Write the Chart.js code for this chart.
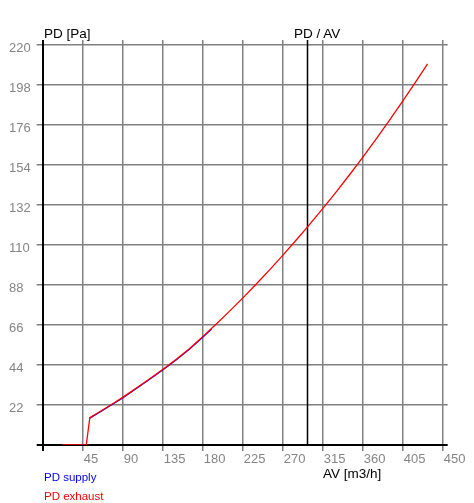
<!DOCTYPE html>
<html lang="en">
  <head>
    <meta charset="UTF-8" />
    <title>PD / AV</title>
    <style>
      body {
        margin: 0;
        background: #fff;
        font-family: "Liberation Sans", Arial, sans-serif;
      }
      .wrap {
        position: relative;
        width: 474px;
        height: 503px;
      }
      .lbl {
        position: absolute;
        white-space: nowrap;
        line-height: 1;
      }
      .title {
        font-size: 13.5px;
        color: #000;
      }
      .legend {
        font-size: 11.5px;
      }
    </style>
  </head>
  <body>
    <div class="wrap">
      <canvas id="chart" width="474" height="503"></canvas>
      <span class="lbl title" style="left: 44px; top: 26.5px">PD [Pa]</span>
      <span class="lbl title" style="left: 294px; top: 26.5px">PD / AV</span>
      <span class="lbl title" style="left: 323px; top: 466.5px">AV [m3/h]</span>
      <span class="lbl legend" style="left: 44px; top: 472px; color: #0000ff">PD supply</span>
      <span class="lbl legend" style="left: 44px; top: 491px; color: #ff0000">PD exhaust</span>
    </div>

    <script src="https://cdn.jsdelivr.net/npm/chart.js"></script>
    <script>
      // axis ticks
      const avTicks = [0, 45, 90, 135, 180, 225, 270, 315, 360, 405, 450];
      const pdTicks = [0, 22, 44, 66, 88, 110, 132, 154, 176, 198, 220];

      // PD exhaust curve
      const exhaustAV = [22, 49, 53, 65, 80, 90, 105, 120, 135, 150, 165, 180, 195, 210, 225, 240, 255, 270, 285, 297, 315, 330, 345, 360, 375, 390, 405, 420, 433];
      const exhaustPD = [0, 0, 15.0, 18.6, 23.1, 26.2, 31.2, 36.3, 41.5, 47.0, 53.0, 59.6, 66.4, 73.5, 80.8, 88.4, 96.2, 104.3, 112.6, 119.4, 130.0, 139.1, 148.5, 158.2, 168.2, 178.5, 189.1, 200.0, 209.6];

      // PD supply curve (only the lower part is visible)
      const supplyAV = [53, 65, 80, 90, 105, 120, 135, 150, 165, 180, 190];
      const supplyPD = [14.8, 18.3, 22.8, 25.9, 30.9, 36.0, 41.2, 46.7, 52.7, 59.3, 63.8];

      // working point marker
      const operatingAV = 297;

      const toPoints = (xs, ys) => xs.map((x, i) => ({ x: x, y: ys[i] }));

      const gridColor = (ctx) =>
        ctx.tick && ctx.tick.value === 0 ? "#000" : "#808080";
      const gridWidth = (ctx) => (ctx.tick && ctx.tick.value === 0 ? 2 : 1.5);

      const hideZero = (v) => (v === 0 ? "" : v);

      const operatingLine = {
        id: "operatingLine",
        beforeDatasetsDraw(chart) {
          const { ctx, chartArea, scales } = chart;
          const px = Math.round(scales.x.getPixelForValue(operatingAV)) + 0.5;
          ctx.save();
          ctx.strokeStyle = "#000";
          ctx.lineWidth = 1.5;
          ctx.beginPath();
          ctx.moveTo(px, chartArea.top - 5);
          ctx.lineTo(px, chartArea.bottom);
          ctx.stroke();
          ctx.restore();
        },
      };

      Chart.defaults.font.family = '"Liberation Sans", Arial, sans-serif';

      new Chart(document.getElementById("chart"), {
        type: "line",
        data: {
          datasets: [
            {
              label: "PD supply",
              data: toPoints(supplyAV, supplyPD),
              borderColor: "#0000ff",
              borderWidth: 1.3,
              pointRadius: 0,
              tension: 0,
              order: 1,
            },
            {
              label: "PD exhaust",
              data: toPoints(exhaustAV, exhaustPD),
              borderColor: "#ff0000",
              borderWidth: 1.3,
              pointRadius: 0,
              tension: 0,
              order: 0,
            },
          ],
        },
        options: {
          responsive: false,
          animation: false,
          layout: { padding: { left: 9, top: 0, right: 0, bottom: 0 } },
          plugins: {
            legend: { display: false },
            tooltip: { enabled: false },
          },
          scales: {
            x: {
              type: "linear",
              position: "bottom",
              min: avTicks[0],
              max: avTicks[avTicks.length - 1],
              afterBuildTicks: (s) => (s.ticks = avTicks.map((v) => ({ value: v }))),
              afterFit: (s) => (s.height = 58),
              grid: { color: gridColor, lineWidth: gridWidth, tickLength: 6 },
              border: { color: "#000", width: 2 },
              ticks: {
                callback: hideZero,
                align: "start",
                labelOffset: 1,
                padding: 1,
                maxRotation: 0,
                autoSkip: false,
                color: "#858585",
                font: { size: 13 },
              },
            },
            x2: {
              type: "linear",
              position: "top",
              min: avTicks[0],
              max: avTicks[avTicks.length - 1],
              afterBuildTicks: (s) => (s.ticks = avTicks.map((v) => ({ value: v }))),
              afterFit: (s) => (s.height = 45),
              grid: { color: gridColor, lineWidth: gridWidth, tickLength: 5, drawOnChartArea: false },
              border: { display: false },
              ticks: { display: false },
            },
            y: {
              type: "linear",
              position: "left",
              min: pdTicks[0],
              max: pdTicks[pdTicks.length - 1],
              afterBuildTicks: (s) => (s.ticks = pdTicks.map((v) => ({ value: v }))),
              afterFit: (s) => (s.width = 33.7),
              grid: { color: gridColor, lineWidth: gridWidth, tickLength: 6 },
              border: { color: "#000", width: 2 },
              ticks: {
                callback: hideZero,
                crossAlign: "far",
                labelOffset: 3,
                autoSkip: false,
                color: "#858585",
                font: { size: 13 },
              },
            },
            y2: {
              type: "linear",
              position: "right",
              min: pdTicks[0],
              max: pdTicks[pdTicks.length - 1],
              afterBuildTicks: (s) => (s.ticks = pdTicks.map((v) => ({ value: v }))),
              afterFit: (s) => (s.width = 31.3),
              grid: { color: gridColor, lineWidth: gridWidth, tickLength: 5, drawOnChartArea: false },
              border: { display: false },
              ticks: { display: false },
            },
          },
        },
        plugins: [operatingLine],
      });
    </script>
  </body>
</html>
